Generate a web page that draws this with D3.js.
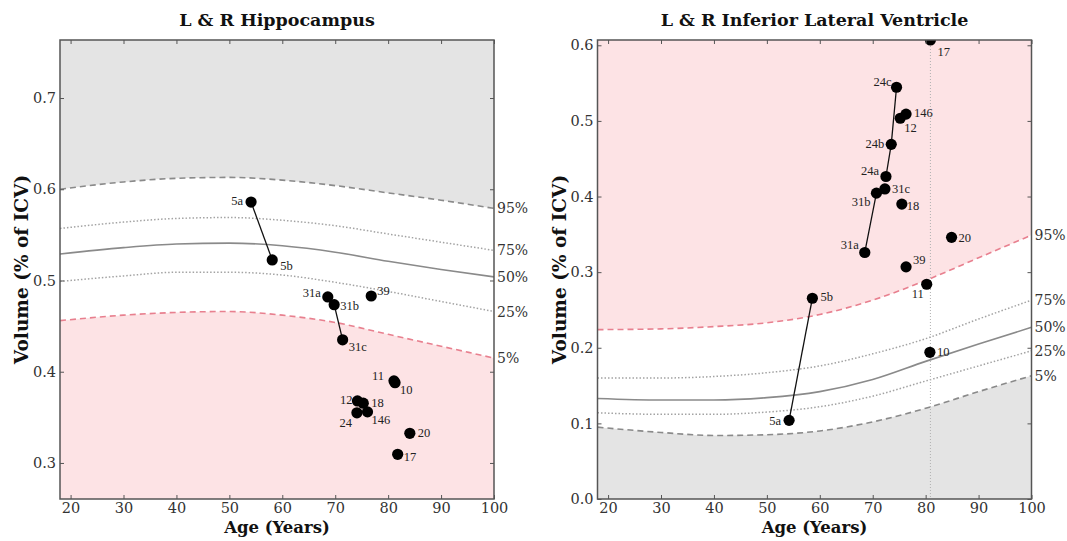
<!DOCTYPE html>
<html>
<head>
<meta charset="utf-8">
<script src="https://cdn.jsdelivr.net/npm/d3@7"></script>
<style>
  html, body { margin: 0; padding: 0; background: #fff; }
  svg { display: block; }
</style>
</head>
<body>
<svg id="chart" width="1067" height="541"></svg>
<script>
// ---- normative percentile curves (volume as % of ICV) by age ----
const curveAges = [18, 30, 40, 50, 60, 70, 80, 90, 100];

const hippoP95 = [0.600, 0.608, 0.612, 0.613, 0.610, 0.604, 0.596, 0.588, 0.579];
const hippoP75 = [0.557, 0.564, 0.568, 0.569, 0.566, 0.560, 0.551, 0.542, 0.533];
const hippoP50 = [0.529, 0.536, 0.540, 0.541, 0.538, 0.531, 0.521, 0.512, 0.504];
const hippoP25 = [0.499, 0.505, 0.509, 0.509, 0.506, 0.498, 0.488, 0.477, 0.466];
const hippoP05 = [0.456, 0.462, 0.465, 0.466, 0.462, 0.454, 0.441, 0.428, 0.415];

const ventP95 = [0.224, 0.225, 0.228, 0.233, 0.244, 0.263, 0.289, 0.319, 0.349];
const ventP75 = [0.160, 0.160, 0.162, 0.167, 0.176, 0.192, 0.212, 0.238, 0.263];
const ventP50 = [0.133, 0.131, 0.131, 0.134, 0.142, 0.158, 0.182, 0.205, 0.227];
const ventP25 = [0.114, 0.112, 0.112, 0.115, 0.122, 0.136, 0.156, 0.176, 0.196];
const ventP05 = [0.095, 0.088, 0.084, 0.085, 0.090, 0.102, 0.120, 0.142, 0.163];

const percentileNames = ["95%", "75%", "50%", "25%", "5%"];

// ---- subjects ----
const hippoIds  = ["5a", "5b", "31a", "31b", "31c", "39", "11", "10", "12", "18", "24", "146", "20", "17"];
const hippoAge  = [54.1, 58.1, 68.6, 69.8, 71.4, 76.8, 81.1, 81.3, 74.2, 75.3, 74.1, 76.1, 84.1, 81.8];
const hippoVol  = [0.586, 0.5225, 0.482, 0.4735, 0.435, 0.483, 0.390, 0.388, 0.368, 0.3655, 0.355, 0.356, 0.3325, 0.3095];
const hippoLinks = [["5a", "5b"], ["31a", "31b", "31c"]];

const ventIds  = ["5a", "5b", "31a", "31b", "31c", "24a", "24b", "24c", "12", "146", "18", "20", "39", "11", "10", "17"];
const ventAge  = [54.2, 58.6, 68.5, 70.7, 72.3, 72.5, 73.5, 74.5, 75.2, 76.3, 75.5, 84.9, 76.3, 80.2, 80.8, 80.9];
const ventVol  = [0.104, 0.2655, 0.326, 0.4045, 0.410, 0.4265, 0.469, 0.5445, 0.5035, 0.509, 0.390, 0.346, 0.307, 0.284, 0.194, 0.607];
const ventLinks = [["5a", "5b"], ["31a", "31b", "31c"], ["24a", "24b", "24c"]];
const ventMarkerAge = 80.9;

// ---- axes ----
const xTicks = [20, 30, 40, 50, 60, 70, 80, 90, 100];
const hippoYTicks = [0.3, 0.4, 0.5, 0.6, 0.7];
const ventYTicks = [0.0, 0.1, 0.2, 0.3, 0.4, 0.5, 0.6];

// label offsets around each dot: [dx, dy, anchor]
const hippoLabelPos = {
  "5a": [-8, 3, "end"], "5b": [8, 10, "start"], "31a": [-7, 0, "end"], "31b": [6, 5, "start"],
  "31c": [6, 11, "start"], "39": [6, -1, "start"], "11": [-10, -1, "end"], "10": [5, 11, "start"],
  "12": [-5, 3, "end"], "18": [8, 4, "start"], "24": [-5, 14, "end"], "146": [4, 12, "start"],
  "20": [8, 4, "start"], "17": [6, 7, "start"]
};
const ventLabelPos = {
  "24c": [-5, -1, "end"], "146": [8, 3, "start"], "12": [4, 14, "start"], "24b": [-7, 4, "end"],
  "24a": [-7, -1, "end"], "31c": [7, 4, "start"], "31b": [-6, 13, "end"], "18": [5, 6, "start"],
  "20": [7, 5, "start"], "31a": [-6, -3, "end"], "39": [7, -3, "start"], "11": [-3, 14, "end"],
  "5b": [8, 3, "start"], "5a": [-8, 5, "end"], "10": [7, 4, "start"], "17": [7, 16, "start"]
};

const PINK = "#fde3e5", GRAY = "#e4e4e4", RED = "#e8808f", LINE = "#8a8a8a", DOT = "#a3a3a3";
const SERIF = "'DejaVu Serif', serif", TIMES = "'Liberation Serif', 'Times New Roman', serif";

const svg = d3.select("#chart");

function panel(cfg) {
  const { x0, x1, y0, y1 } = cfg;
  const x = d3.scaleLinear().domain([18, 100]).range([x0, x1]);
  const y = d3.scaleLinear().domain(cfg.yDomain).range([y1, y0]);
  const g = svg.append("g");
  const clipId = "clip-" + cfg.key;
  svg.append("defs").append("clipPath").attr("id", clipId)
    .append("rect").attr("x", x0).attr("y", y0).attr("width", x1 - x0).attr("height", y1 - y0);
  const plot = g.append("g").attr("clip-path", `url(#${clipId})`);

  const pts = arr => curveAges.map((a, i) => [a, arr[i]]);
  const curve = d3.curveMonotoneX;

  // shaded regions above the upper band and below the lower band
  const areaTop = d3.area().x(d => x(d[0])).y0(y0).y1(d => y(d[1])).curve(curve);
  const areaBot = d3.area().x(d => x(d[0])).y0(y1).y1(d => y(d[1])).curve(curve);
  plot.append("path").attr("d", areaTop(pts(cfg.p95))).attr("fill", cfg.topFill);
  plot.append("path").attr("d", areaBot(pts(cfg.p05))).attr("fill", cfg.botFill);

  const line = d3.line().x(d => x(d[0])).y(d => y(d[1])).curve(curve);
  const styles = [
    { data: cfg.p95, stroke: cfg.p95Color, dash: "6,4", w: 1.6 },
    { data: cfg.p75, stroke: DOT, dash: "1.5,2", w: 1.5 },
    { data: cfg.p50, stroke: LINE, dash: null, w: 1.6 },
    { data: cfg.p25, stroke: DOT, dash: "1.5,2", w: 1.5 },
    { data: cfg.p05, stroke: cfg.p05Color, dash: "6,4", w: 1.6 }
  ];
  styles.forEach(s => {
    plot.append("path").attr("d", line(pts(s.data))).attr("fill", "none")
      .attr("stroke", s.stroke).attr("stroke-width", s.w)
      .attr("stroke-dasharray", s.dash);
  });

  if (cfg.markerAge != null) {
    plot.append("line").attr("x1", x(cfg.markerAge)).attr("x2", x(cfg.markerAge))
      .attr("y1", y0).attr("y2", y1).attr("stroke", "#b0b0b0").attr("stroke-width", 1)
      .attr("stroke-dasharray", "1,2");
  }

  // subject trajectories
  const idx = id => cfg.ids.indexOf(id);
  cfg.links.forEach(chain => {
    plot.append("path")
      .attr("d", d3.line()(chain.map(id => [x(cfg.ages[idx(id)]), y(cfg.vols[idx(id)])])))
      .attr("fill", "none").attr("stroke", "#111").attr("stroke-width", 1.3);
  });

  plot.selectAll("circle.subj").data(cfg.ids).join("circle").attr("class", "subj")
    .attr("cx", (d, i) => x(cfg.ages[i])).attr("cy", (d, i) => y(cfg.vols[i]))
    .attr("r", 5.6).attr("fill", "#000");

  g.selectAll("text.subj").data(cfg.ids).join("text").attr("class", "subj")
    .attr("x", (d, i) => x(cfg.ages[i]) + cfg.labelPos[d][0])
    .attr("y", (d, i) => y(cfg.vols[i]) + cfg.labelPos[d][1])
    .attr("text-anchor", d => cfg.labelPos[d][2])
    .attr("font-family", TIMES).attr("font-size", 12.5).attr("fill", "#222")
    .text(d => d);

  // frame
  g.append("rect").attr("x", x0).attr("y", y0).attr("width", x1 - x0).attr("height", y1 - y0)
    .attr("fill", "none").attr("stroke", "#555").attr("stroke-width", 1.5);

  // inward ticks on all four sides
  const tk = 4;
  const axB = d3.axisBottom(x).tickValues(xTicks).tickSizeInner(-tk).tickSizeOuter(0).tickPadding(4).tickFormat(d3.format("d"));
  const axT = d3.axisTop(x).tickValues(xTicks).tickSizeInner(-tk).tickSizeOuter(0).tickFormat("");
  const axL = d3.axisLeft(y).tickValues(cfg.yTicks).tickSizeInner(-tk).tickSizeOuter(0).tickPadding(4).tickFormat(d3.format(".1f"));
  const axR = d3.axisRight(y).tickValues(cfg.yTicks).tickSizeInner(-tk).tickSizeOuter(0).tickFormat("");
  const styleAxis = sel => {
    sel.select(".domain").remove();
    sel.selectAll(".tick line").attr("stroke", "#555").attr("stroke-width", 1);
    sel.selectAll(".tick text").attr("font-family", SERIF).attr("font-size", 14.5).attr("fill", "#333");
  };
  g.append("g").attr("transform", `translate(0,${y1})`).call(axB).call(styleAxis);
  g.append("g").attr("transform", `translate(0,${y0})`).call(axT).call(styleAxis);
  g.append("g").attr("transform", `translate(${x0},0)`).call(axL).call(styleAxis);
  g.append("g").attr("transform", `translate(${x1},0)`).call(axR).call(styleAxis);

  // percentile names at the right end of each curve
  const ends = [cfg.p95, cfg.p75, cfg.p50, cfg.p25, cfg.p05].map(a => a[a.length - 1]);
  g.selectAll("text.pct").data(percentileNames).join("text").attr("class", "pct")
    .attr("x", x1 + 3).attr("y", (d, i) => y(ends[i]) + 5)
    .attr("font-family", SERIF).attr("font-size", 14).attr("fill", "#333")
    .text(d => d);

  // titles and axis labels
  g.append("text").attr("x", (x0 + x1) / 2).attr("y", 26).attr("text-anchor", "middle")
    .attr("font-family", SERIF).attr("font-weight", "bold").attr("font-size", 17.5).attr("fill", "#111")
    .text(cfg.title);
  g.append("text").attr("x", (x0 + x1) / 2).attr("y", 533).attr("text-anchor", "middle")
    .attr("font-family", SERIF).attr("font-weight", "bold").attr("font-size", 16.5).attr("fill", "#111")
    .text("Age (Years)");
  g.append("text").attr("transform", `translate(${x0 - 32},${(y0 + y1) / 2}) rotate(-90)`)
    .attr("text-anchor", "middle")
    .attr("font-family", SERIF).attr("font-weight", "bold").attr("font-size", 18.5).attr("fill", "#111")
    .text("Volume (% of ICV)");
}

panel({
  key: "hippo", title: "L & R Hippocampus",
  x0: 60, x1: 494, y0: 40, y1: 499, yDomain: [0.2605, 0.7636], yTicks: hippoYTicks,
  p95: hippoP95, p75: hippoP75, p50: hippoP50, p25: hippoP25, p05: hippoP05,
  topFill: GRAY, botFill: PINK, p95Color: LINE, p05Color: RED,
  ids: hippoIds, ages: hippoAge, vols: hippoVol, links: hippoLinks, labelPos: hippoLabelPos,
  markerAge: null
});

panel({
  key: "vent", title: "L & R Inferior Lateral Ventricle",
  x0: 597.5, x1: 1031.5, y0: 40, y1: 499, yDomain: [0, 0.607], yTicks: ventYTicks,
  p95: ventP95, p75: ventP75, p50: ventP50, p25: ventP25, p05: ventP05,
  topFill: PINK, botFill: GRAY, p95Color: RED, p05Color: LINE,
  ids: ventIds, ages: ventAge, vols: ventVol, links: ventLinks, labelPos: ventLabelPos,
  markerAge: ventMarkerAge
});
</script>
</body>
</html>
